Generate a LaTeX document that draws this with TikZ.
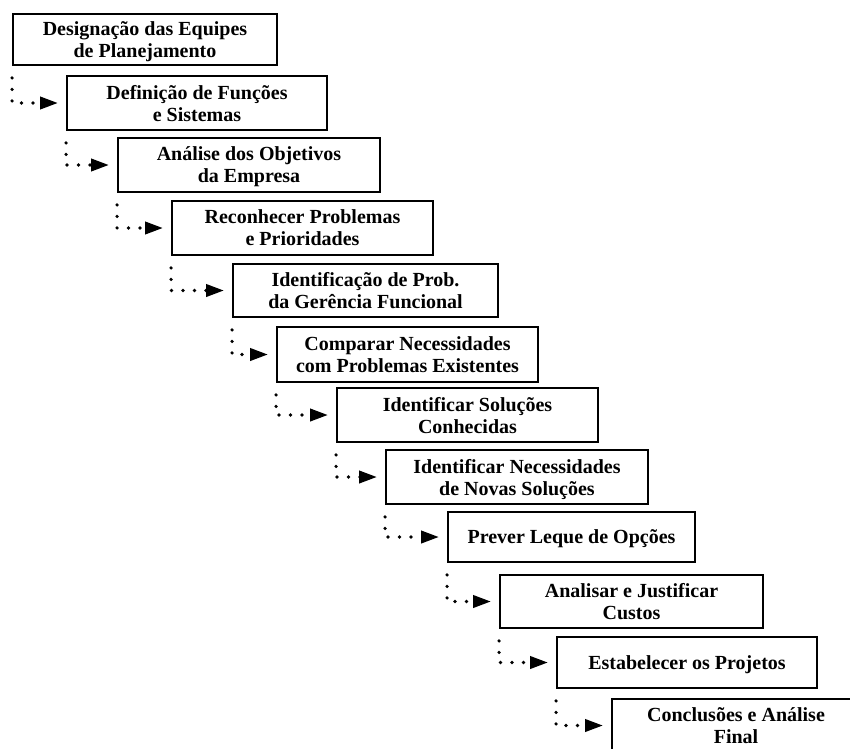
\documentclass[tikz,border=0pt]{standalone}
\usepackage{fontspec}
\setmainfont{Liberation Serif}
\usetikzlibrary{arrows.meta}
\tikzset{
  stepbox/.style={draw, line width=1.8pt, align=center, inner sep=2pt, text depth=0pt,
    font=\fontsize{20}{22}\selectfont\bfseries},
  conn/.style={line width=3.6pt, line cap=round, dash pattern=on 0pt off 11.5pt,
    -{Triangle[length=18pt,width=12pt]}}
}
\begin{document}
\begin{tikzpicture}[x=1pt,y=-1pt]
\useasboundingbox (0,0) rectangle (850,748);
\clip (0,0) rectangle (850,748);
\node[stepbox, minimum width=264pt, minimum height=51pt] (b1) at (145,39.5) {Designação das Equipes\\de Planejamento};
\node[stepbox, minimum width=260pt, minimum height=54pt] (b2) at (197,103) {Definição de Funções\\e Sistemas};
\node[stepbox, minimum width=262pt, minimum height=54pt] (b3) at (249,165) {Análise dos Objetivos\\da Empresa};
\node[stepbox, minimum width=261pt, minimum height=54pt] (b4) at (302.5,228) {Reconhecer Problemas\\e Prioridades};
\node[stepbox, minimum width=265pt, minimum height=53pt] (b5) at (365.5,290.5) {Identificação de Prob.\\da Gerência Funcional};
\node[stepbox, minimum width=261pt, minimum height=55pt] (b6) at (407.5,354.5) {Comparar Necessidades\\com Problemas Existentes};
\node[stepbox, minimum width=261pt, minimum height=54pt] (b7) at (467.5,415) {Identificar Soluções\\Conhecidas};
\node[stepbox, minimum width=262pt, minimum height=54pt] (b8) at (517,477) {Identificar Necessidades\\de Novas Soluções};
\node[stepbox, minimum width=247pt, minimum height=50pt] (b9) at (571.5,537) {Prever Leque de Opções};
\node[stepbox, minimum width=263pt, minimum height=53pt] (b10) at (631.5,601.5) {Analisar e Justificar\\Custos};
\node[stepbox, minimum width=260pt, minimum height=51pt] (b11) at (687,662.5) {Estabelecer os Projetos};
\node[stepbox, minimum width=248pt, minimum height=53pt] (b12) at (736,725.5) {Conclusões e Análise\\Final};
\foreach \a/\b in {b1/b2,b2/b3,b3/b4,b4/b5,b5/b6,b6/b7,b7/b8,b8/b9,b9/b10,b10/b11,b11/b12}{
  \draw[conn] ([yshift=-12pt]\a.south west) |- ([xshift=-8pt]\b.west);
}
\end{tikzpicture}
\end{document}
